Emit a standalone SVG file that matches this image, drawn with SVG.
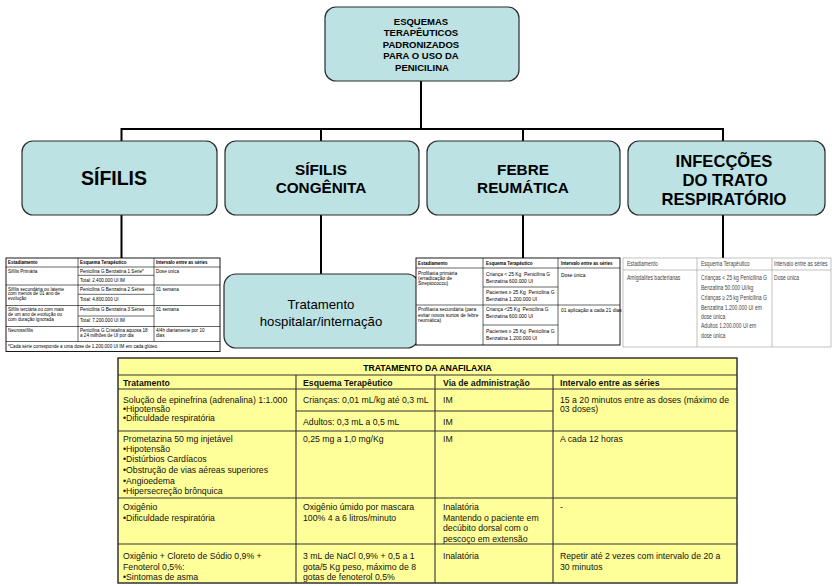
<svg xmlns="http://www.w3.org/2000/svg" width="832" height="586" viewBox="0 0 832 586">
<style>
.box{fill:#bce2e3;stroke:#2a2a2a;stroke-width:1.2}
.conn{stroke:#000;stroke-width:2;fill:none}
text{font-family:"Liberation Sans",Arial,sans-serif;fill:#000}
.b{font-weight:bold}
.c{text-anchor:middle}
.s{font-size:4.6px}
.sh{font-size:4.5px;font-weight:bold}
.f{font-size:4.9px}
.g{font-size:7px;fill:#444}
.a{font-size:8.7px;fill:#111}
.tl{stroke:#000;stroke-width:0.6;fill:none}
.gl{stroke:#999;stroke-width:0.6;fill:none}
.yl{stroke:#333;stroke-width:1.1;fill:none}
</style>
<rect width="832" height="586" fill="#fff"/>
<g id="connectors">
<path class="conn" d="M421,81 V129 M121.5,129 H723 M121.5,128 V141 M321,128 V141 M523,128 V141 M723,128 V141"/>
<path class="conn" d="M121.5,215 V258 M321,215 V274 M523,215 V258 M723,215 V258"/>
</g>
<g id="raiz">
<rect class="box" x="325" y="7" width="194" height="74" rx="11"/>
<text class="b c" font-size="9.5" x="421" y="24.5">ESQUEMAS</text>
<text class="b c" font-size="9.5" x="421" y="36">TERAPÊUTICOS</text>
<text class="b c" font-size="9.5" x="421" y="47.5">PADRONIZADOS</text>
<text class="b c" font-size="9.5" x="421" y="59">PARA O USO DA</text>
<text class="b c" font-size="9.5" x="422" y="70.5">PENICILINA</text>
</g>
<g id="sifilis">
<rect class="box" x="22" y="141" width="195" height="74" rx="11"/>
<text class="b c" font-size="19.5" x="114" y="185">SÍFILIS</text>
</g>
<g id="sifilis-congenita">
<rect class="box" x="225" y="141" width="194" height="74" rx="11"/>
<text class="b c" font-size="15.3" x="321" y="175">SÍFILIS</text>
<text class="b c" font-size="15.3" x="321" y="193">CONGÊNITA</text>
</g>
<g id="febre-reumatica">
<rect class="box" x="427" y="141" width="193" height="74" rx="11"/>
<text class="b c" font-size="15.3" x="523" y="175">FEBRE</text>
<text class="b c" font-size="15.3" x="523" y="193">REUMÁTICA</text>
</g>
<g id="infeccoes">
<rect class="box" x="628" y="141" width="197" height="74" rx="11"/>
<text class="b c" font-size="16.6" x="724" y="166.5">INFECÇÕES</text>
<text class="b c" font-size="16.6" x="725" y="186">DO TRATO</text>
<text class="b c" font-size="16.6" x="724" y="205">RESPIRATÓRIO</text>
</g>
<g id="tratamento-hospitalar">
<rect class="box" x="224" y="274" width="195" height="74" rx="12"/>
<text class="c" font-size="13.2" x="321" y="309">Tratamento</text>
<text class="c" font-size="13.2" x="321" y="325.5">hospitalar/internação</text>
</g>
<g id="tabela-sifilis">
<rect x="6" y="258" width="214" height="93.5" fill="#fff" stroke="#000" stroke-width="0.9"/>
<path class="tl" d="M6,267 H220 M6,285 H220 M6,305.5 H220 M6,326.5 H220 M6,341.5 H220 M78,275.3 H154 M78,294.3 H154 M78,316 H154 M78,258 V341.5 M154,258 V341.5"/>
<text class="sh" x="8" y="264">Estadiamento</text>
<text class="sh" x="80" y="264">Esquema Terapêutico</text>
<text class="sh" x="156" y="264">Intervalo entre as séries</text>
<text class="s" x="8" y="272.5">Sífilis Primária</text>
<text class="s" x="80" y="272.5">Penicilina G Benzatina 1 Série*</text>
<text class="s" x="80" y="281.5">Total: 2.400.000 UI IM</text>
<text class="s" x="156" y="272.5">Dose única</text>
<text class="s" x="8" y="290.5">Sífilis secundária ou latente</text>
<text class="s" x="8" y="295.2">com menos de 01 ano de</text>
<text class="s" x="8" y="300">evolução</text>
<text class="s" x="80" y="290.5">Penicilina G Benzatina 2 Séries</text>
<text class="s" x="80" y="301">Total: 4.800.000 UI</text>
<text class="s" x="156" y="290.5">01 semana</text>
<text class="s" x="8" y="310.8">Sífilis terciária ou com mais</text>
<text class="s" x="8" y="315.8">de um ano de evolução ou</text>
<text class="s" x="8" y="320.8">com duração ignorada</text>
<text class="s" x="80" y="310.8">Penicilina G Benzatina 3 Séries</text>
<text class="s" x="80" y="322">Total: 7.200.000 UI IM</text>
<text class="s" x="156" y="310.8">01 semana</text>
<text class="s" x="8" y="331.5">Neurossífilis</text>
<text class="s" x="80" y="331.5">Penicilina G Cristalina aquosa 18</text>
<text class="s" x="80" y="337">a 24 milhões de UI por dia</text>
<text class="s" x="156" y="331.5">4/4h diariamente por 10</text>
<text class="s" x="156" y="337">dias</text>
<text class="s" x="8" y="347.8">*Cada série corresponde a uma dose de 1.200.000 UI IM em cada glúteo.</text>
</g>
<g id="tabela-febre">
<rect x="416" y="258" width="204" height="87" fill="#fff" stroke="#000" stroke-width="0.9"/>
<path class="tl" d="M416,268 H620 M416,305 H620 M483,287 H558 M483,325 H558 M483,258 V345 M558,258 V345"/>
<text class="sh" x="418" y="264.5">Estadiamento</text>
<text class="sh" x="486" y="264.5">Esquema Terapêutico</text>
<text class="sh" x="561" y="264.5">Intervalo entre as séries</text>
<text class="f" x="418" y="275">Profilaxia primária</text>
<text class="f" x="418" y="280.2">(erradicação de</text>
<text class="f" x="418" y="285.4">Streptococcu)</text>
<text class="f" x="486" y="276" xml:space="preserve">Criança &lt; 25 Kg  Penicilina G</text>
<text class="f" x="486" y="282.5">Benzatina 600.000 UI</text>
<text class="f" x="486" y="294.2" xml:space="preserve">Pacientes ≥ 25 Kg  Penicilina G</text>
<text class="f" x="486" y="300.5">Benzatina 1.200.000 UI</text>
<text class="f" x="561" y="277">Dose única</text>
<text class="f" x="418" y="311">Profilaxia secundária (para</text>
<text class="f" x="418" y="316.5">evitar novos surtos de febre</text>
<text class="f" x="418" y="322">reumática)</text>
<text class="f" x="486" y="311" xml:space="preserve">Criança &lt;25 Kg  Penicilina G</text>
<text class="f" x="486" y="318">Benzatina 600.000 UI</text>
<text class="f" x="486" y="333" xml:space="preserve">Pacientes ≥ 25 Kg  Penicilina G</text>
<text class="f" x="486" y="340">Benzatina 1.200.000 UI</text>
<text class="f" x="561" y="312">01 aplicação a cada 21 dias</text>
</g>
<g id="tabela-infeccoes">
<rect x="623" y="258" width="208" height="89" fill="#fff" stroke="#999" stroke-width="0.6"/>
<path class="gl" d="M623,270 H831 M697,258 V347 M772,258 V347"/>
<text class="g" transform="translate(627,266) scale(0.72,1)">Estadiamento</text>
<text class="g" transform="translate(701,266) scale(0.72,1)">Esquema Terapêutico</text>
<text class="g" transform="translate(774,266) scale(0.72,1)">Intervalo entre as séries</text>
<text class="g" transform="translate(627,279.5) scale(0.72,1)">Amigdalites bacterianas</text>
<text class="g" transform="translate(701,279.5) scale(0.72,1)">Crianças &lt; 25 kg Penicilina G</text>
<text class="g" transform="translate(701,289.5) scale(0.72,1)">Benzatina 50.000 UI/kg</text>
<text class="g" transform="translate(701,299.5) scale(0.72,1)">Crianças ≥ 25 kg Penicilina G</text>
<text class="g" transform="translate(701,309.5) scale(0.72,1)">Benzatina 1.200.000 UI em</text>
<text class="g" transform="translate(701,318.5) scale(0.72,1)">dose única</text>
<text class="g" transform="translate(701,328) scale(0.72,1)">Adultos 1.200.000 UI em</text>
<text class="g" transform="translate(701,338) scale(0.72,1)">dose única</text>
<text class="g" transform="translate(774,280) scale(0.72,1)">Dose única</text>
</g>
<g id="tabela-anafilaxia">
<rect x="118" y="358" width="619" height="225" fill="#ffff99" stroke="#333" stroke-width="1.5"/>
<path class="yl" d="M118,375 H737 M118,389 H737 M118,431 H737 M118,498 H737 M118,544 H737 M296,411 H553 M296,375 V583 M435,375 V583 M553,375 V583"/>
<text class="b c" font-size="8.7" x="427.5" y="370.5" fill="#111">TRATAMENTO DA ANAFILAXIA</text>
<text class="a b" x="123" y="385.5">Tratamento</text>
<text class="a b" x="303" y="385.5">Esquema Terapêutico</text>
<text class="a b" x="443" y="385.5">Via de administração</text>
<text class="a b" x="560" y="385.5">Intervalo entre as séries</text>
<text class="a" x="123" y="402.7">Solução de epinefrina (adrenalina) 1:1.000</text>
<text class="a" x="123" y="412.4">•Hipotensão</text>
<text class="a" x="123" y="421">•Dificuldade respiratória</text>
<text class="a" x="303" y="402.7">Crianças: 0,01 mL/kg até 0,3 mL</text>
<text class="a" x="303" y="425">Adultos: 0,3 mL a 0,5 mL</text>
<text class="a" x="443" y="402.7">IM</text>
<text class="a" x="443" y="425">IM</text>
<text class="a" x="560" y="402.7">15 a 20 minutos entre as doses (máximo de</text>
<text class="a" x="560" y="412.4">03 doses)</text>
<text class="a" x="123" y="441.7">Prometazina 50 mg injetável</text>
<text class="a" x="123" y="451.9">•Hipotensão</text>
<text class="a" x="123" y="462.4">•Distúrbios Cardíacos</text>
<text class="a" x="123" y="473.2">•Obstrução de vias aéreas superiores</text>
<text class="a" x="123" y="483.8">•Angioedema</text>
<text class="a" x="123" y="494.3">•Hipersecreção brônquica</text>
<text class="a" x="303" y="441.7">0,25 mg a 1,0 mg/Kg</text>
<text class="a" x="443" y="441.7">IM</text>
<text class="a" x="560" y="441.7">A cada 12 horas</text>
<text class="a" x="123" y="510.3">Oxigênio</text>
<text class="a" x="123" y="520.6">•Dificuldade respiratória</text>
<text class="a" x="303" y="510.3">Oxigênio úmido por mascara</text>
<text class="a" x="303" y="520.6">100% 4 a 6 litros/minuto</text>
<text class="a" x="443" y="510.3">Inalatória</text>
<text class="a" x="443" y="521">Mantendo o paciente em</text>
<text class="a" x="443" y="531.3">decúbito dorsal com o</text>
<text class="a" x="443" y="541.5">pescoço em extensão</text>
<text class="a" x="560" y="510.3">-</text>
<text class="a" x="123" y="559.4">Oxigênio + Cloreto de Sódio 0,9% +</text>
<text class="a" x="123" y="569.8">Fenoterol 0,5%:</text>
<text class="a" x="123" y="579.6">•Sintomas de asma</text>
<text class="a" x="303" y="559.4">3 mL de NaCl 0,9% + 0,5 a 1</text>
<text class="a" x="303" y="569.8">gota/5 Kg peso, máximo de 8</text>
<text class="a" x="303" y="579.6">gotas de fenoterol 0,5%</text>
<text class="a" x="443" y="559.4">Inalatória</text>
<text class="a" x="560" y="559.4">Repetir até 2 vezes com intervalo de 20 a</text>
<text class="a" x="560" y="569.8">30 minutos</text>
</g>
</svg>
